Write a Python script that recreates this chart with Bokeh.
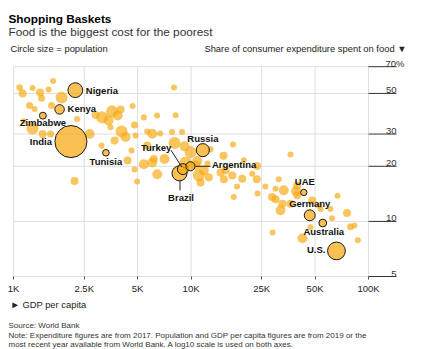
import numpy as np
from bokeh.plotting import figure
from bokeh.models import FixedTicker, Label
from bokeh.core.properties import value
from bokeh.embed import file_html
from bokeh.resources import INLINE

FONT = "Liberation Sans"

# ---- data: other countries (GDP per capita $, food share %, population millions)
OTHER_GDP = [1081, 1124, 1279, 1410, 1438, 1669, 1864, 1637, 1230, 1313,
             1139, 1279, 1457, 1616, 2279, 2681, 2897, 3152, 3429, 3588,
             3854, 4007, 4683, 4060, 4276, 3707, 3519, 3131, 4622, 4388,
             4867, 5423, 5666, 6045, 6434, 6689, 7816, 8897, 8180, 8022,
             4804, 8072, 5666, 6172, 7092, 5423, 6045, 4804, 6451, 4963,
             9191, 9935, 9311, 10837, 12878, 11064, 11805, 12598, 14664, 15305,
             2207, 17248, 15245, 19842, 23544, 15647, 17070, 19434, 23484, 22125,
             18167, 26221, 36362, 23697, 17407, 28606, 31203, 33298, 29937, 29937,
             32781, 31938, 39044, 39661, 28796, 42487, 39661, 36362, 48175, 52481,
             61080, 66910, 75680, 62287, 47120, 79190, 83390, 87040, 53654, 10602,
             11309, 12388, 1575]
OTHER_SHARE = [53.9, 50.0, 53.6, 50.6, 47.0, 58.5, 47.5, 43.0, 43.0, 41.1,
               35.2, 32.2, 30.0, 30.0, 36.3, 30.0, 38.1, 37.0, 35.6, 39.9,
               37.9, 40.9, 42.7, 31.0, 28.9, 27.7, 32.7, 26.0, 24.4, 21.5,
               29.5, 37.0, 31.0, 30.1, 37.9, 30.2, 30.8, 30.8, 38.0, 53.9,
               33.6, 26.8, 26.0, 21.9, 21.9, 20.5, 21.0, 19.2, 18.1, 16.5,
               25.7, 23.9, 21.0, 21.4, 24.8, 17.8, 19.0, 17.4, 18.5, 17.0,
               16.6, 26.3, 22.8, 21.6, 20.1, 19.0, 17.8, 17.1, 17.0, 18.2,
               15.5, 15.5, 23.2, 14.2, 13.6, 13.6, 17.0, 14.8, 15.1, 13.2,
               12.5, 11.5, 14.6, 15.7, 8.7, 8.1, 13.9, 12.5, 13.0, 12.2,
               11.7, 13.8, 11.1, 10.4, 9.3, 9.35, 9.5, 7.9, 11.7, 20.2,
               16.3, 20.7, 52.6]
OTHER_POP = [12, 28, 7, 28, 16, 7, 111, 16, 16, 7,
             7, 111, 28, 16, 7, 62, 28, 111, 62, 111,
             62, 28, 7, 111, 62, 28, 7, 7, 7, 28,
             7, 7, 7, 62, 7, 7, 7, 7, 7, 7,
             16, 111, 28, 28, 62, 62, 62, 7, 62, 7,
             62, 111, 111, 62, 7, 111, 62, 28, 28, 28,
             28, 7, 28, 7, 28, 28, 28, 28, 28, 7,
             7, 7, 7, 7, 7, 28, 7, 62, 7, 28,
             28, 62, 62, 28, 7, 62, 28, 28, 28, 7,
             7, 7, 28, 7, 7, 16, 7, 7, 7, 62,
             28, 7, 7]

# ---- data: highlighted countries
HL_NAMES = ["India", "U.S.", "Brazil", "Nigeria", "Russia", "Turkey", "Germany",
            "Kenya", "Argentina", "Australia", "Zimbabwe", "Tunisia", "UAE"]
HL_GDP = [2104, 66000, 8610, 2227, 11654, 8995, 46660,
          1816, 9920, 55260, 1462, 3312, 43200]
HL_SHARE = [27.3, 6.9, 18.3, 52.1, 24.5, 19.3, 10.8,
            40.9, 20.0, 9.8, 37.8, 23.7, 14.4]
HL_POP = [1366, 328, 211, 201, 144, 83, 83,
          52.6, 45, 25, 14.6, 11.7, 9.8]

# ---- axes
X_TICKS = [1000, 2500, 5000, 10000, 25000, 50000, 100000]
X_TICK_LABELS = ["1K", "2.5K", "5K", "10K", "25K", "50K", "100K"]
Y_TICKS = [70, 50, 30, 20, 10, 5]
Y_TICK_LABELS = ["70%", "50", "30", "20", "10", "5"]

# the frame spans the whole canvas; ranges chosen so that the grid sits
# where the reference draws it
X_RANGE = (843.6, 212300)
Y_RANGE = (1.997, 160.9)
X_LABEL_EDGE = 143800  # right end of the y tick rules

# label placement: (dx px, dy px, align)
LABEL_POS = {
    "Nigeria": (10.5, 0, "left"),
    "Kenya": (8, -1, "left"),
    "Zimbabwe": (0, 7, "center"),
    "India": (-19, 0, "right"),
    "Tunisia": (0, 8.5, "center"),
    "Russia": (0, -12, "center"),
    "Turkey": (-11.5, -21.5, "right"),
    "Argentina": (21.5, -1.5, "left"),
    "Brazil": (1.5, 24, "center"),
    "UAE": (1, -10.5, "center"),
    "Germany": (0, -11.7, "center"),
    "Australia": (1, 8.5, "center"),
    "U.S.": (-11, -1, "right"),
}
# leader lines: name -> ((dx0, dy0), (dx1, dy1)) in px from the bubble centre
LEADERS = {
    "Turkey": ((-12, -19), (-1, -2)),
    "Argentina": ((5, 0), (20, 0)),
    "Brazil": ((0.5, 7), (0.5, 17)),
}

W, H = 426, 349
PX_X = W / np.log10(X_RANGE[1] / X_RANGE[0])
PX_Y = H / np.log10(Y_RANGE[1] / Y_RANGE[0])

BUBBLE = "#F6A912"


def bubble_size(pop):
    return 2 * (2 + 0.38 * np.sqrt(np.asarray(pop, dtype=float)))


p = figure(width=W, height=H, x_axis_type="log", y_axis_type="log",
           x_range=X_RANGE, y_range=Y_RANGE, y_axis_location=None,
           toolbar_location=None, output_backend="svg", title=None,
           min_border=0, min_border_left=0, min_border_right=0,
           min_border_top=0, min_border_bottom=0)
p.outline_line_color = None
p.grid.visible = False
p.background_fill_color = "white"
p.border_fill_color = "white"

ax = p.xaxis[0]
ax.fixed_location = min(Y_TICKS)
ax.ticker = FixedTicker(ticks=X_TICKS)
ax.major_label_overrides = dict(zip(X_TICKS, X_TICK_LABELS))
ax.axis_line_color = None
ax.major_tick_line_color = "#555555"
ax.major_tick_out = 3
ax.major_tick_in = 0
ax.minor_tick_line_color = None
ax.major_label_text_font = FONT
ax.major_label_text_font_size = "9.5px"
ax.major_label_text_color = "#222222"
ax.major_label_standoff = 3

# grid lines
nx, ny = len(X_TICKS), len(Y_TICKS)
p.segment(x0=X_TICKS, y0=[min(Y_TICKS)] * nx, x1=X_TICKS, y1=[max(Y_TICKS)] * nx,
          line_color="#dedede", line_width=1)
p.segment(x0=[min(X_TICKS)] * ny, y0=Y_TICKS, x1=[max(X_TICKS)] * ny, y1=Y_TICKS,
          line_color="#dedede", line_width=1)
p.segment(x0=[max(X_TICKS)] * ny, y0=Y_TICKS, x1=[X_LABEL_EDGE] * ny, y1=Y_TICKS,
          line_color="#333333", line_width=1)
p.text(x=[X_LABEL_EDGE] * ny, y=Y_TICKS, text=Y_TICK_LABELS,
       x_offset=[8 if t.endswith("%") else 0 for t in Y_TICK_LABELS], y_offset=-3,
       text_align="right", text_baseline="alphabetic", text_font=value(FONT),
       text_font_size="9.5px", text_color="#333333")

# bubbles
p.scatter(x=OTHER_GDP, y=OTHER_SHARE, size=bubble_size(OTHER_POP), marker="circle",
          fill_color=BUBBLE, fill_alpha=0.68, line_color=None)
p.scatter(x=HL_GDP, y=HL_SHARE, size=bubble_size(HL_POP), marker="circle",
          fill_color=BUBBLE, fill_alpha=0.72, line_color="#1a1a1a", line_width=1)

# leader lines
lx0, ly0, lx1, ly1 = [], [], [], []
for name, ((dx0, dy0), (dx1, dy1)) in LEADERS.items():
    i = HL_NAMES.index(name)
    gx, sy = HL_GDP[i], HL_SHARE[i]
    lx0.append(gx * 10 ** (dx0 / PX_X)); ly0.append(sy * 10 ** (-dy0 / PX_Y))
    lx1.append(gx * 10 ** (dx1 / PX_X)); ly1.append(sy * 10 ** (-dy1 / PX_Y))
p.segment(x0=lx0, y0=ly0, x1=lx1, y1=ly1, line_color="#222222", line_width=1)

# country labels
for align in ("left", "center", "right"):
    names = [n for n in HL_NAMES if LABEL_POS[n][2] == align]
    if not names:
        continue
    idx = [HL_NAMES.index(n) for n in names]
    p.text(x=[HL_GDP[i] for i in idx], y=[HL_SHARE[i] for i in idx], text=names,
           x_offset=[LABEL_POS[n][0] for n in names],
           y_offset=[LABEL_POS[n][1] for n in names],
           text_align=align, text_baseline="middle", text_font=value(FONT),
           text_font_size="9.5px", text_font_style="bold", text_color="#111111")


def add_label(text, cx, cy, size, style="normal", color="#222222", align="left"):
    # cx, cy: canvas position (y from the top) of the text baseline
    p.add_layout(Label(x=cx, y=H - cy, x_units="screen", y_units="screen",
                       text=text, text_font=FONT, text_font_size=size,
                       text_font_style=style, text_color=color,
                       text_align=align, text_baseline="alphabetic"))


add_label("Shopping Baskets", 8, 18.5, "11.8px", "bold", "#000000")
add_label("Food is the biggest cost for the poorest", 8, 31.7, "11.8px", "normal", "#333333")
add_label("Circle size = population", 10, 47.5, "9.4px")
add_label("Share of consumer expenditure spent on food \u25BC", 406, 47.5, "9.4px", align="right")
add_label("\u25BA GDP per capita", 10, 303.5, "9.4px")
add_label("Source: World Bank", 8, 325, "8px", color="#333333")
add_label("Note: Expenditure figures are from 2017. Population and GDP per capita figures are from 2019 or the",
          8, 334.5, "8px", color="#333333")
add_label("most recent year available from World Bank. A log10 scale is used on both axes.",
          8, 344, "8px", color="#333333")

open("out.html", "w").write(file_html(p, INLINE))
